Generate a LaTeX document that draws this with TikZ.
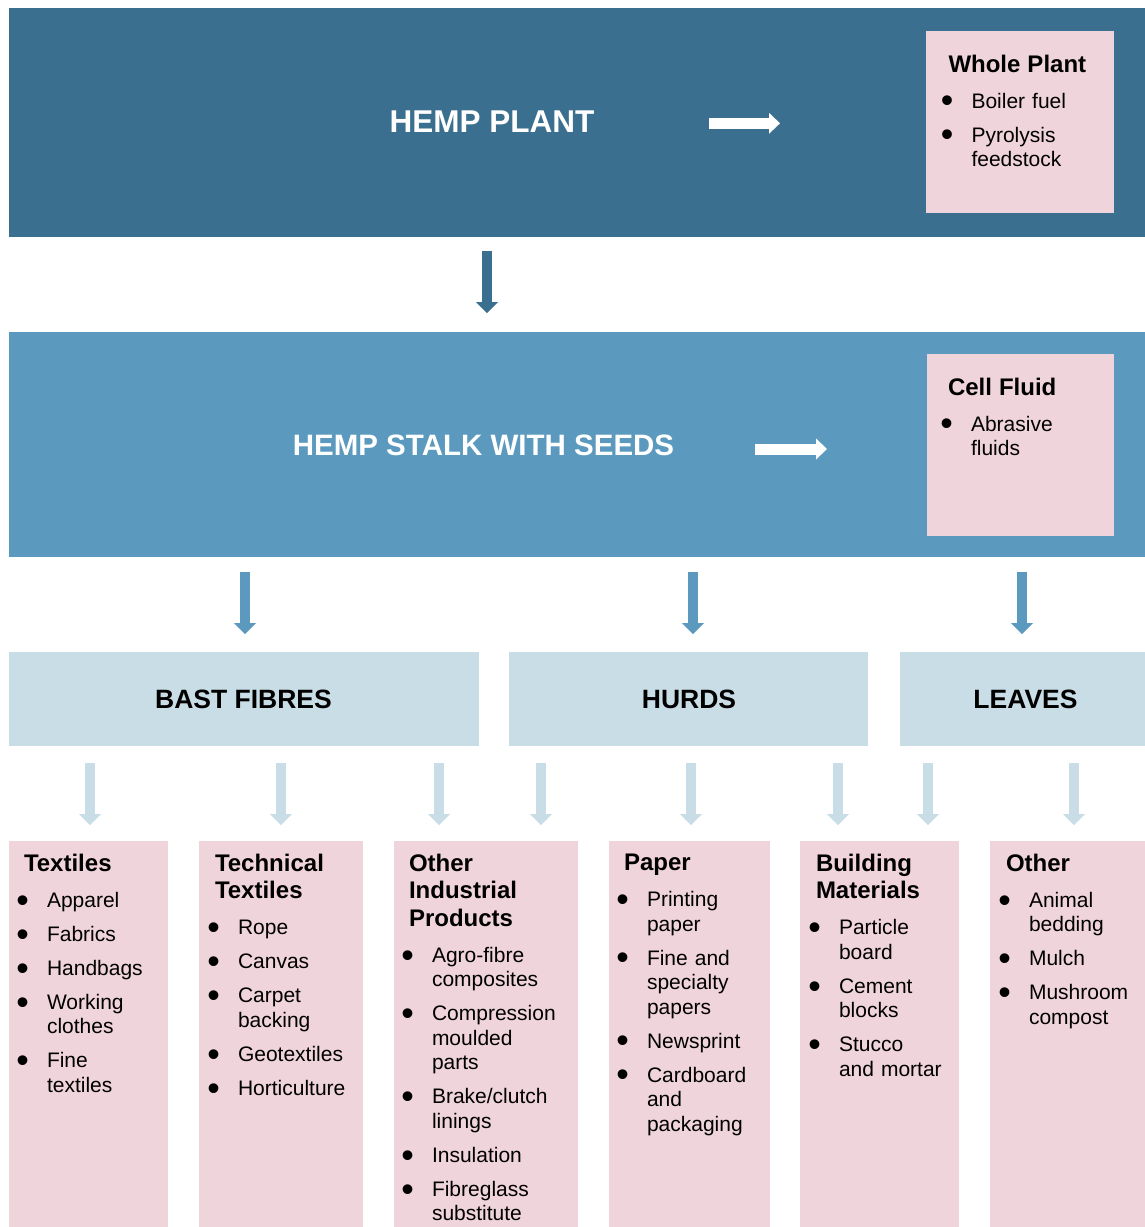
\documentclass[tikz,border=0pt]{standalone}
\usepackage{fontspec}
\usepackage{graphicx}
\setmainfont{Liberation Sans}
\usetikzlibrary{arrows.meta}
\definecolor{darkblue}{RGB}{59,111,143}
\definecolor{midblue}{RGB}{91,154,190}
\definecolor{lightblue}{RGB}{201,221,231}
\definecolor{pinkbox}{RGB}{240,212,220}
\newcommand{\bul}{\makebox[9pt]{\smash{\raisebox{-4.6pt}{\scalebox{1.7}{•}}}}}
\newcommand{\lstsetup}{\raggedright\setlength{\parskip}{0pt}\setlength{\parindent}{0pt}}
\newcommand{\ttl}{\bfseries\fontsize{24}{27.5}\selectfont\setlength{\leftskip}{6pt}}
\newcommand{\itm}[1]{\par\vspace{9.5pt}\noindent\hangindent=29pt\hangafter=1\relax\makebox[29pt][l]{\bul}#1\par}
\newcommand{\tgap}{\par\vspace{2pt}}
\begin{document}
\begin{tikzpicture}[x=1pt,y=-1pt,
  fillbox/.style={anchor=north west, inner sep=0pt, outer sep=0pt, draw=none, fill=#1},
  biglabel/.style={text=white, inner sep=0pt, font=\bfseries\fontsize{29.5}{30}\selectfont},
  midlabel/.style={text=black, inner sep=0pt, font=\bfseries\fontsize{26.5}{27}\selectfont},
  listnode/.style={anchor=north west, inner sep=0pt, outer sep=0pt, text width=200pt,
    font=\fontsize{21}{24.5}\selectfont},
  blockarrow/.style={draw=#1, line width=10.5pt, line cap=butt,
    -{Triangle[width=22pt,length=11pt,line width=0pt]}}
]
\useasboundingbox (0,0) rectangle (1145,1227);

% main bands
\node[fillbox=darkblue, minimum width=1136pt, minimum height=229pt] (plantbox) at (9,8) {};
\node[fillbox=midblue, minimum width=1136pt, minimum height=225pt] (stalkbox) at (9,332) {};
\node[fillbox=pinkbox, minimum width=188pt, minimum height=182pt] (wholebox) at (926,31) {};
\node[fillbox=pinkbox, minimum width=187pt, minimum height=182pt] (cellbox) at (927,354) {};

\node[biglabel, font=\bfseries\fontsize{31.5}{32}\selectfont] (plantlbl) at (492,122) {HEMP PLANT};
\node[biglabel] (stalklbl) at (483.5,445) {HEMP STALK WITH SEEDS};

\node[listnode] (wholetxt) at (942.5,55) {\lstsetup{\ttl Whole Plant\par}\tgap
  \itm{Boiler fuel}
  \itm{Pyrolysis\newline feedstock}};
\node[listnode] (celltxt) at (942,378) {\lstsetup{\ttl Cell Fluid\par}\tgap
  \itm{Abrasive\newline fluids}};

% third row
\node[fillbox=lightblue, minimum width=470pt, minimum height=94pt] (bastbox) at (9,652) {};
\node[fillbox=lightblue, minimum width=359pt, minimum height=94pt] (hurdsbox) at (509,652) {};
\node[fillbox=lightblue, minimum width=245pt, minimum height=94pt] (leavesbox) at (900,652) {};
\node[midlabel] (bastlbl) at (243.5,699) {BAST FIBRES};
\node[midlabel] (hurdslbl) at (689,699) {HURDS};
\node[midlabel] (leaveslbl) at (1025.5,699) {LEAVES};

% bottom boxes
\node[fillbox=pinkbox, minimum width=159pt, minimum height=386pt] (b1) at (9,841) {};
\node[fillbox=pinkbox, minimum width=164pt, minimum height=386pt] (b2) at (199,841) {};
\node[fillbox=pinkbox, minimum width=184pt, minimum height=386pt] (b3) at (394,841) {};
\node[fillbox=pinkbox, minimum width=161pt, minimum height=386pt] (b4) at (609,841) {};
\node[fillbox=pinkbox, minimum width=159pt, minimum height=386pt] (b5) at (800,841) {};
\node[fillbox=pinkbox, minimum width=155pt, minimum height=386pt] (b6) at (990,841) {};

\node[listnode] (t1) at (18,854) {\lstsetup{\ttl Textiles\par}\tgap
  \itm{Apparel}
  \itm{Fabrics}
  \itm{Handbags}
  \itm{Working\newline clothes}
  \itm{Fine\newline textiles}};
\node[listnode] (t2) at (209,854) {\lstsetup{\ttl Technical\newline Textiles\par}\tgap
  \itm{Rope}
  \itm{Canvas}
  \itm{Carpet\newline backing}
  \itm{Geotextiles}
  \itm{Horticulture}};
\node[listnode] (t3) at (403,854) {\lstsetup{\ttl Other\newline Industrial\newline Products\par}\tgap
  \itm{Agro-fibre\newline composites}
  \itm{Compression\newline moulded\newline parts}
  \itm{Brake/clutch\newline linings}
  \itm{Insulation}
  \itm{Fibreglass\newline substitute}};
\node[listnode] (t4) at (618,854) {\lstsetup{\ttl Paper\par}\tgap
  \itm{Printing\newline paper}
  \itm{Fine and\newline specialty\newline papers}
  \itm{Newsprint}
  \itm{Cardboard\newline and\newline packaging}};
\node[listnode] (t5) at (810,854) {\lstsetup{\ttl Building\newline Materials\par}\tgap
  \itm{Particle\newline board}
  \itm{Cement\newline blocks}
  \itm{Stucco\newline and mortar}};
\node[listnode] (t6) at (1000,854) {\lstsetup{\ttl Other\par}\tgap
  \itm{Animal\newline bedding}
  \itm{Mulch}
  \itm{Mushroom\newline compost}};

% arrows
\coordinate (w1s) at (709,123.3); \coordinate (w1e) at (780,123.3);
\draw[blockarrow=white, line width=11pt, -{Triangle[width=21pt,length=11pt,line width=0pt]}] (w1s) -- (w1e);
\coordinate (w2s) at (755,449); \coordinate (w2e) at (827,449);
\draw[blockarrow=white, line width=11pt, -{Triangle[width=21pt,length=11pt,line width=0pt]}] (w2s) -- (w2e);

\coordinate (d0s) at (487,251); \coordinate (d0e) at (487,313);
\draw[blockarrow=darkblue] (d0s) -- (d0e);

\foreach \x [count=\i] in {245,693,1022} {
  \coordinate (m\i s) at (\x,572); \coordinate (m\i e) at (\x,634);
  \draw[blockarrow=midblue] (m\i s) -- (m\i e);
}
\foreach \x [count=\i] in {90,281,439,541,691,838,928,1074} {
  \coordinate (l\i s) at (\x,763); \coordinate (l\i e) at (\x,825);
  \draw[blockarrow=lightblue] (l\i s) -- (l\i e);
}
\end{tikzpicture}
\end{document}
